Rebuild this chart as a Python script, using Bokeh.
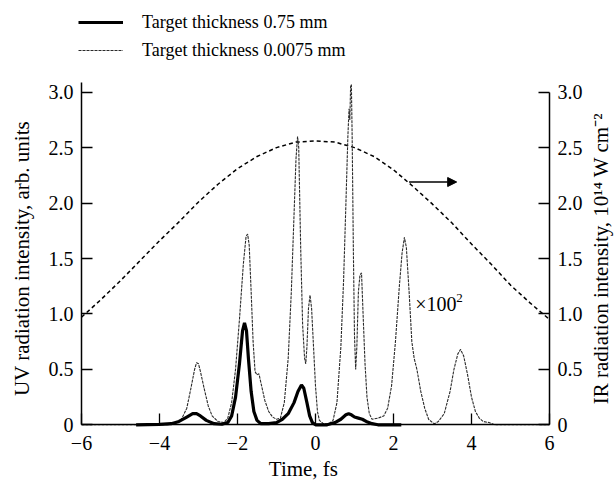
import numpy as np
from bokeh.plotting import figure
from bokeh.models import (Range1d, LinearAxis, FixedTicker, Legend, LegendItem,
                          Label, Arrow, NormalHead)
from bokeh.embed import file_html
from bokeh.resources import INLINE

# ---------------- data ----------------
# UV intensity, target thickness 0.0075 mm (x100^2)
thin_t = [-6.0, -3.8, -3.6, -3.45, -3.3, -3.2, -3.1, -3.05, -3.0, -2.95, -2.85, -2.75,
          -2.65, -2.5, -2.35, -2.25, -2.15, -2.05, -1.95, -1.85, -1.78, -1.74, -1.7,
          -1.65, -1.6, -1.55, -1.5, -1.45, -1.4, -1.3, -1.2, -1.1, -1.0, -0.9, -0.8,
          -0.7, -0.62, -0.55, -0.5, -0.46, -0.43, -0.38, -0.33, -0.28, -0.25, -0.22,
          -0.18, -0.14, -0.1, -0.05, 0.0, 0.05, 0.1, 0.2, 0.35, 0.45, 0.55, 0.65, 0.72,
          0.78, 0.83, 0.86, 0.88, 0.9, 0.92, 0.94, 0.97, 1.0, 1.03, 1.06, 1.1, 1.14,
          1.18, 1.22, 1.27, 1.32, 1.38, 1.45, 1.6, 1.75, 1.85, 1.95, 2.05, 2.15, 2.22,
          2.28, 2.33, 2.4, 2.47, 2.53, 2.6, 2.7, 2.8, 2.9, 3.0, 3.05, 3.15, 3.3, 3.45,
          3.55, 3.65, 3.72, 3.8, 3.9, 4.0, 4.1, 4.2, 4.3, 4.45, 4.6, 6.0]
thin_v = [0.0, 0.0, 0.01, 0.04, 0.15, 0.32, 0.5, 0.56, 0.55, 0.48, 0.32, 0.17,
          0.08, 0.03, 0.02, 0.06, 0.2, 0.5, 0.95, 1.45, 1.7, 1.72, 1.62,
          1.2, 0.75, 0.48, 0.45, 0.46, 0.38, 0.22, 0.12, 0.07, 0.05, 0.06, 0.2,
          0.6, 1.2, 1.9, 2.4, 2.6, 2.5, 1.6, 0.9, 0.6, 0.55, 0.7,
          1.05, 1.17, 1.05, 0.7, 0.35, 0.12, 0.04, 0.01, 0.01, 0.04, 0.2, 0.7, 1.3,
          2.0, 2.6, 2.85, 2.75, 3.05, 3.07, 2.6, 1.6, 0.8, 0.5, 0.7, 1.2, 1.35,
          1.37, 1.0, 0.55, 0.25, 0.1, 0.05, 0.06, 0.08, 0.15, 0.35, 0.75, 1.25, 1.55,
          1.69, 1.6, 1.2, 0.75, 0.6, 0.5, 0.3, 0.15, 0.05, 0.02, 0.01, 0.03, 0.1, 0.3,
          0.5, 0.64, 0.68, 0.62, 0.45, 0.25, 0.12, 0.06, 0.03, 0.02, 0.0, 0.0]

# UV intensity, target thickness 0.75 mm
thick_t = [-4.6, -4.0, -3.7, -3.5, -3.3, -3.15, -3.05, -2.95, -2.8, -2.6, -2.4, -2.25,
           -2.15, -2.05, -1.95, -1.87, -1.82, -1.77, -1.72, -1.65, -1.58, -1.5, -1.4,
           -1.2, -1.0, -0.85, -0.7, -0.55, -0.45, -0.36, -0.3, -0.22, -0.15, -0.08,
           0.0, 0.3, 0.5, 0.65, 0.78, 0.85, 0.92, 1.0, 1.1, 1.2, 1.3, 1.45, 1.6, 2.2]
thick_v = [0.0, 0.003, 0.01, 0.03, 0.07, 0.1, 0.1, 0.08, 0.04, 0.01, 0.005, 0.02,
           0.08, 0.25, 0.55, 0.85, 0.92, 0.85, 0.6, 0.3, 0.12, 0.04, 0.01,
           0.01, 0.02, 0.05, 0.1, 0.2, 0.3, 0.36, 0.33, 0.2, 0.08, 0.02,
           0.0, 0.0, 0.02, 0.05, 0.09, 0.1, 0.09, 0.07, 0.06, 0.05, 0.03, 0.01, 0.0, 0.0]

# IR intensity (right axis, 10^14 W cm^-2)
ir_t = [-6.0, -5.5, -5.0, -4.5, -4.0, -3.5, -3.0, -2.5, -2.0, -1.5, -1.0, -0.5, 0.0,
        0.5, 1.0, 1.5, 2.0, 2.5, 3.0, 3.5, 4.0, 4.5, 5.0, 5.5, 6.0]
ir_v = [0.97, 1.13, 1.3, 1.48, 1.66, 1.83, 2.01, 2.17, 2.31, 2.42, 2.5, 2.55, 2.56,
        2.55, 2.5, 2.42, 2.3, 2.15, 1.99, 1.82, 1.63, 1.45, 1.26, 1.1, 0.95]

x_ticks = [-6, -4, -2, 0, 2, 4, 6]
x_tick_labels = ["\u22126", "\u22124", "\u22122", "0", "2", "4", "6"]
y_ticks = [0, 0.5, 1.0, 1.5, 2.0, 2.5, 3.0]
y_tick_labels = ["0", "0.5", "1.0", "1.5", "2.0", "2.5", "3.0"]

legend_labels = ["Target thickness 0.75 mm", "Target thickness 0.0075 mm"]
x_label = "Time, fs"
y_label = "UV radiation intensity, arb. units"
y2_label = "IR radiation intensity, 10\u00b9\u2074 W cm\u207b\u00b2"
scale_note = "\u00d7100"
scale_note_sup = "2"
note_x, note_y = 2.56, 1.09
arrow_x0, arrow_x1, arrow_y = 2.4, 3.62, 2.19

# ---------------- layout geometry (pixels) ----------------
W, H = 615, 482
AX_L, AX_R = 81, 549          # x = -6 and x = 6 on the canvas
AX_B, AX_T = 424.3, 91.7      # y = 0 and y = 3 on the canvas
XMIN, XMAX = -6, 6
YMIN, YMAX = 0, 3
sx = (AX_R - AX_L) / (XMAX - XMIN)
sy = (AX_B - AX_T) / (YMAX - YMIN)
x_lo = XMIN - AX_L / sx
x_hi = XMAX + (W - AX_R) / sx
y_lo = YMIN - (H - AX_B) / sy
y_hi = YMAX + AX_T / sy

FONT = "Liberation Serif"
p = figure(width=W, height=H, x_range=Range1d(x_lo, x_hi), y_range=Range1d(y_lo, y_hi),
           output_backend="svg", toolbar_location=None,
           min_border_left=0, min_border_right=0, min_border_top=0, min_border_bottom=0)
p.extra_y_ranges = {"ir": Range1d(y_lo, y_hi)}
p.outline_line_color = None
p.xgrid.visible = False
p.ygrid.visible = False
p.background_fill_color = "white"
p.border_fill_color = "white"

yr = LinearAxis(y_range_name="ir")
p.add_layout(yr, "right")

xa, ya = p.xaxis[0], p.yaxis[0]
xa.fixed_location = 0
xa.bounds = (XMIN, XMAX)
ya.fixed_location = XMIN
ya.bounds = (0, 3.09)
yr.fixed_location = XMAX
yr.bounds = (0, 3.0)

for ax in [xa, ya, yr]:
    ax.axis_line_width = 1.5
    ax.axis_line_color = "black"
    ax.major_tick_line_width = 1.3
    ax.major_tick_line_color = "black"
    ax.major_tick_in = 11
    ax.major_tick_out = 0
    ax.minor_tick_line_color = None
    ax.major_label_text_font = FONT
    ax.major_label_text_font_size = "20px"
    ax.major_label_text_color = "black"

xa.ticker = FixedTicker(ticks=x_ticks)
xa.major_label_overrides = dict(zip(x_ticks, x_tick_labels))
xa.major_label_standoff = 11
for ax in [ya, yr]:
    ax.ticker = FixedTicker(ticks=y_ticks)
    ax.major_label_overrides = dict(zip(y_ticks, y_tick_labels))
    ax.major_label_standoff = 8

# curves
r_ir = p.line(ir_t, ir_v, y_range_name="ir", line_color="black", line_width=1.5,
              line_dash="4 3")
r_thin = p.line(thin_t, thin_v, line_color="#2a2a2a", line_width=1.1, line_dash="3 1")
r_thick = p.line(thick_t, thick_v, line_color="black", line_width=3.2)

# arrow pointing to the right axis
p.add_layout(Arrow(end=NormalHead(size=9, fill_color="black", line_color="black"),
                   x_start=arrow_x0, y_start=arrow_y, x_end=arrow_x1, y_end=arrow_y,
                   line_width=1.3, line_color="black"))

p.add_layout(Label(x=note_x, y=note_y, text=scale_note, text_font=FONT,
                   text_font_size="20px", text_baseline="middle", text_align="left",
                   text_color="black"))
p.add_layout(Label(x=note_x, y=note_y, x_offset=41, y_offset=6, text=scale_note_sup,
                   text_font=FONT, text_font_size="13px", text_baseline="middle",
                   text_align="left", text_color="black"))

# axis titles
p.add_layout(Label(x=XMIN, y=1.5, x_offset=-60, text=y_label, text_font=FONT,
                   text_font_size="21px", text_align="center", text_baseline="middle",
                   angle=np.pi / 2, text_color="black"))
p.add_layout(Label(x=XMAX, y=1.5, x_offset=51, text=y2_label, text_font=FONT,
                   text_font_size="21px", text_align="center", text_baseline="middle",
                   angle=np.pi / 2, text_color="black"))
p.add_layout(Label(x=-0.31, y=0, y_offset=-44, text=x_label, text_font=FONT,
                   text_font_size="21px", text_align="center", text_baseline="middle",
                   text_color="black"))

legend = Legend(items=[LegendItem(label=legend_labels[0], renderers=[r_thick]),
                       LegendItem(label=legend_labels[1], renderers=[r_thin])],
                location=(78, H - 61), orientation="vertical",
                border_line_color=None, background_fill_alpha=0,
                padding=0, margin=0, spacing=6,
                glyph_width=45, glyph_height=22, label_height=22, label_standoff=19,
                label_text_font=FONT, label_text_font_size="18px",
                label_text_color="black")
p.add_layout(legend, "center")

open("out.html", "w").write(file_html(p, INLINE))
